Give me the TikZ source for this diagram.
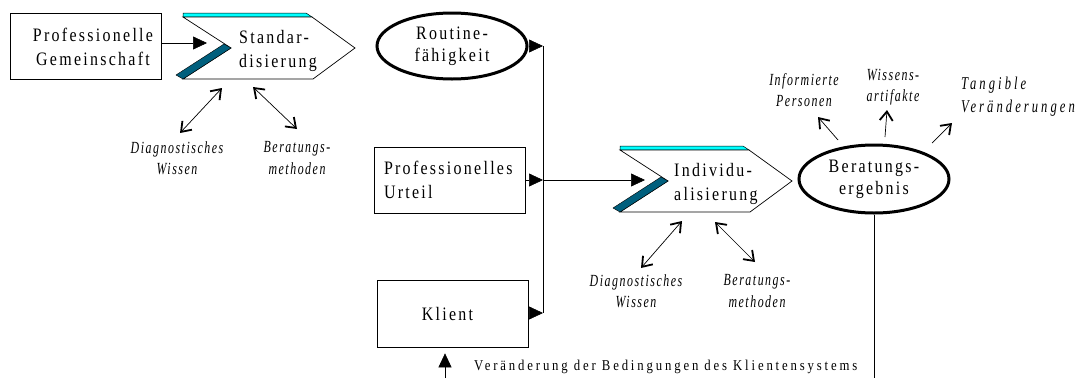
\documentclass[tikz,border=0pt]{standalone}
\usepackage{fontspec}
\setmainfont{Liberation Serif}
\newfontfamily\boxfont{Liberation Serif}[LetterSpace=12,FakeStretch=0.84]
\newfontfamily\labfont{Liberation Serif}[LetterSpace=9,FakeStretch=0.7]
\newfontfamily\bigitfont{Liberation Serif}[LetterSpace=17,FakeStretch=0.7]
\newfontfamily\chgfont{Liberation Serif}[LetterSpace=19,FakeStretch=0.85]
\usetikzlibrary{arrows.meta,shapes.geometric}
\definecolor{bandcyan}{RGB}{0,255,255}
\definecolor{bandteal}{RGB}{0,95,125}
\tikzset{
  box/.style={draw, line width=0.7pt, rectangle, inner sep=0pt, minimum width=151pt},
  boxtxt/.style={font=\boxfont\fontsize{19}{23.5}\selectfont, align=center, inner sep=0pt},
  oval/.style={draw, ellipse, line width=3pt, inner sep=0pt, minimum width=150pt,
     font=\boxfont\fontsize{19}{22}\selectfont, align=center},
  lab/.style={font=\labfont\itshape\fontsize{17}{21.5}\selectfont, align=center, inner sep=0pt},
  conn/.style={line width=0.6pt},
  tri/.style={conn, -{Triangle[length=14pt,width=13pt]}},
  barb/.style={line width=0.7pt, -{Straight Barb[length=9pt,width=13pt,line width=1.8pt]}},
  dbl/.style={line width=0.7pt, {Straight Barb[length=9pt,width=13pt,line width=1.8pt]}-{Straight Barb[length=9pt,width=13pt,line width=1.8pt]}},
}
\newcommand{\chevshape}{%
  \filldraw[fill=bandcyan, draw=black, line width=0.5pt] (0,-4) -- (123,-4) -- (129,0) -- (0,0) -- cycle;
  \filldraw[fill=white, draw=black, line width=0.7pt] (0,0) -- (129,0) -- (172,31) -- (130,62) -- (0,62) -- (48,31) -- cycle;
  \filldraw[fill=bandteal, draw=black, line width=0.4pt] (0,62) -- (48,31) -- (41,27) -- (-7,58) -- cycle;
}
\begin{document}
\begin{tikzpicture}[x=1pt,y=-1pt]
\useasboundingbox (0,0) rectangle (1082,378);
% chevrons
\begin{scope}[shift={(183,17)}]\chevshape\end{scope}
\begin{scope}[shift={(620,150)}]\chevshape\end{scope}
\node[boxtxt, align=left, anchor=west] (std) at (239,51) {Standar-\\disierung};
\node[boxtxt, align=left, anchor=west] (ind) at (674,184) {Individu-\\alisierung};
\coordinate (stdin) at (207,43);
\coordinate (indin) at (645,180);
% boxes
\node[box, minimum height=66pt] (gem) at (85.5,46) {};
\node[boxtxt] (gemt) at (93,47) {Professionelle\\Gemeinschaft};
\node[box, minimum height=66pt, inner xsep=10pt, text width=131pt, align=left,
      font=\boxfont\fontsize{19}{23.5}\selectfont] (urt) at (449.5,180) {Professionelles\\Urteil};
\node[box, minimum height=67pt, font=\boxfont\fontsize{19}{23.5}\selectfont] (kli) at (452.5,313.5) {\hspace*{-10pt}Klient};
% ellipses
\node[oval, minimum height=66pt] (rout) at (452,46) {Routine-\\fähigkeit};
\node[oval, minimum height=68pt] (ber) at (874,179) {Beratungs-\\ergebnis};
% bus
\coordinate (busR) at (543,46);
\coordinate (busU) at (543,180);
\coordinate (busK) at (543,313);
\draw[conn] (busR) -- (busK);
\draw[tri] (rout.east) -- (busR);
\draw[tri] (urt.east) -- (busU);
\draw[tri] (busU) -- (indin);
\draw[tri] (kli.east |- busK) -- (busK);
\draw[tri] (gem.east |- stdin) -- (stdin);
% feedback
\coordinate (kfb) at (445,378);
\draw[tri, shorten >=6pt] (kfb) -- (kfb |- kli.south);
\node[font=\chgfont\fontsize{15}{16}\selectfont, anchor=west, inner sep=0pt] (chg) at (474,367) {Veränderung der Bedingungen des Klientensystems};
\coordinate (berbot) at (ber.south |- kfb);
\draw[conn] (ber.south) -- (berbot);
% labels under Standardisierung
\node[lab] (sd) at (177,158) {Diagnostisches\\Wissen};
\node[lab] (sm) at (297,158) {Beratungs-\\methoden};
\coordinate (sd1) at (222,88); \coordinate (sd2) at (180,133);
\coordinate (sm1) at (253,87); \coordinate (sm2) at (297,129);
\draw[dbl] (sd1) -- (sd2);
\draw[dbl] (sm1) -- (sm2);
% labels under Individualisierung
\node[lab] (id) at (636,291) {Diagnostisches\\Wissen};
\node[lab] (im) at (757,291) {Beratungs-\\methoden};
\coordinate (id1) at (682,221); \coordinate (id2) at (641,268);
\coordinate (im1) at (715,222); \coordinate (im2) at (755,262);
\draw[dbl] (id1) -- (id2);
\draw[dbl] (im1) -- (im2);
% outputs
\node[lab] (op) at (804,90) {Informierte\\Personen};
\node[lab] (ow) at (893,87) {Wissens-\\artifakte};
\node[lab, font=\bigitfont\itshape\fontsize{18}{23}\selectfont, align=left, anchor=west] (ot) at (961,97) {Tangible\\Veränderungen};
\coordinate (o1a) at (838,140); \coordinate (o1b) at (818,117);
\coordinate (o2a) at (885,137); \coordinate (o2b) at (887,110);
\coordinate (o3a) at (932,143); \coordinate (o3b) at (952,123);
\draw[barb] (o1a) -- (o1b);
\draw[barb] (o2a) -- (o2b);
\draw[barb] (o3a) -- (o3b);
\end{tikzpicture}
\end{document}
